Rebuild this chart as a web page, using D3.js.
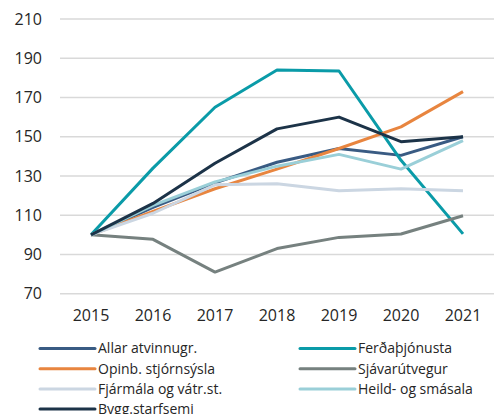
<!DOCTYPE html>
<html>
<head>
<meta charset="utf-8">
<script src="https://cdn.jsdelivr.net/npm/d3@7"></script>
<style>
  html, body { margin: 0; padding: 0; background: #fff; }
  svg { display: block; font-family: "Open Sans", sans-serif; }
</style>
</head>
<body>
<svg id="chart" width="500" height="414"></svg>
<script>
const years = ["2015", "2016", "2017", "2018", "2019", "2020", "2021"];
const yTicks = [70, 90, 110, 130, 150, 170, 190, 210];

const allar     = [100, 114, 126.5, 137, 144, 140.5, 150];
const ferda     = [100, 134, 165, 184, 183.5, 138, 100.5];
const opinb     = [100, 112, 123.5, 133.5, 144, 155, 173];
const sjavar    = [100, 97.7, 81, 93, 98.7, 100.4, 109.7];
const fjarmala  = [100, 111, 125.5, 126, 122.5, 123.5, 122.5];
const heild     = [100, 115, 127, 135, 141, 133.5, 148];
const bygg      = [100, 116, 136.5, 154, 160, 147.5, 150];

const seriesNames = ["Allar atvinnugr.", "Ferðaþjónusta", "Opinb. stjórnsýsla", "Sjávarútvegur",
                     "Fjármála og vátr.st.", "Heild- og smásala", "Bygg.starfsemi"];
const seriesValues = [allar, ferda, opinb, sjavar, fjarmala, heild, bygg];
const seriesColors = ["#395B83", "#0A9BA8", "#E8853F", "#76817F", "#CBD6E2", "#9ACFD8", "#1C3348"];

const svg = d3.select("#chart");
const plotLeft = 60, plotRight = 494, plotTop = 19, plotBottom = 293.7;

const x = d3.scaleBand().domain(years).range([plotLeft, plotRight]);
const y = d3.scaleLinear().domain([70, 210]).range([plotBottom, plotTop]);

// gridlines
svg.append("g").selectAll("line").data(yTicks).join("line")
  .attr("x1", plotLeft).attr("x2", plotRight)
  .attr("y1", d => y(d)).attr("y2", d => y(d))
  .attr("stroke", "#D9D9D9").attr("stroke-width", 1.5);

// y axis labels
const yAxis = d3.axisLeft(y).tickValues(yTicks).tickSize(0).tickPadding(0);
const gy = svg.append("g").attr("transform", `translate(${42},0)`).call(yAxis);
gy.select(".domain").remove();
gy.selectAll("text").attr("font-size", 16).attr("fill", "#262626")
  .attr("font-family", "'Open Sans', sans-serif");

// x axis labels
const xAxis = d3.axisBottom(x).tickSize(0).tickPadding(0);
const gx = svg.append("g").attr("transform", `translate(0,${310})`).call(xAxis);
gx.select(".domain").remove();
gx.selectAll("text").attr("font-size", 16).attr("fill", "#262626")
  .attr("font-family", "'Open Sans', sans-serif").attr("dy", "0.71em");

// lines
const line = d3.line()
  .x((d, i) => x(years[i]) + x.bandwidth() / 2)
  .y(d => y(d));

svg.append("g").selectAll("path").data(seriesValues).join("path")
  .attr("d", d => line(d))
  .attr("fill", "none")
  .attr("stroke", (d, i) => seriesColors[i])
  .attr("stroke-width", 3)
  .attr("stroke-linejoin", "round");

// legend
const legend = svg.append("g");
const colX = [40, 300];
const rowY0 = 348.5, rowH = 20.2;
seriesNames.forEach((name, i) => {
  const c = i % 2, r = Math.floor(i / 2);
  const g = legend.append("g").attr("transform", `translate(${colX[c]},${rowY0 + r * rowH})`);
  g.append("line").attr("x1", 0).attr("x2", 55).attr("y1", 0).attr("y2", 0)
    .attr("stroke", seriesColors[i]).attr("stroke-width", 3).attr("stroke-linecap", "round");
  g.append("text").attr("x", 58).attr("y", 0).attr("dy", "0.35em")
    .attr("font-size", 14).attr("fill", "#262626").text(name);
});
</script>
</body>
</html>
